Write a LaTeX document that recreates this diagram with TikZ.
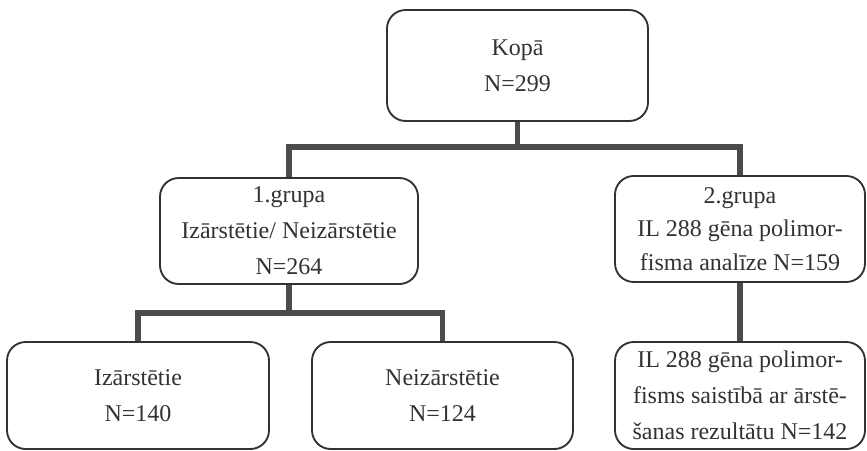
\documentclass[tikz,border=0pt]{standalone}
\usepackage{fontspec}
\setmainfont{Liberation Serif}
\usetikzlibrary{positioning, calc}
\definecolor{BoxGray}{RGB}{50, 50, 50}
\definecolor{BarGray}{RGB}{75, 75, 75}

\begin{document}
\begin{tikzpicture}[x=0.75pt,y=-0.75pt,
	box/.style={draw=BoxGray,line width=1.4pt,rounded corners=14pt,align=center,
		inner sep=0pt,text=BoxGray,font=\fontsize{18}{27}\selectfont},
	bar/.style={draw=BarGray,line width=4pt}]
\useasboundingbox (0,0) rectangle (867,450);
\node[box,minimum width=195.75pt,minimum height=83.25pt] (kopa) at (517.5,65.5) {Kopā\\N=299};
\node[box,minimum width=193.5pt,minimum height=79.5pt] (grupa1) at (289,231) {1.grupa\\Izārstētie/ Neizārstētie\\N=264};
\node[box,minimum width=187.5pt,minimum height=79.5pt,font=\fontsize{18}{25}\selectfont] (grupa2) at (740,229) {2.grupa\\IL 288 gēna polimor-\\fisma analīze N=159};
\node[box,minimum width=196.5pt,minimum height=80.25pt] (izar) at (138,395.5) {Izārstētie\\N=140};
\node[box,minimum width=195.75pt,minimum height=80.25pt] (neizar) at (442.5,395.5) {Neizārstētie\\N=124};
\node[box,minimum width=187.5pt,minimum height=80.25pt] (rezult) at (740,395.5) {IL 288 gēna polimor-\\fisms saistībā ar ārstē-\\šanas rezultātu N=142};
\coordinate (j1) at (517.5,147);
\coordinate (j2) at (289,313);
\draw[bar] (kopa.south) -- (j1);
\draw[bar] (grupa1.north) |- (j1) -| (grupa2.north);
\draw[bar] (grupa1.south) -- (j2);
\draw[bar] (izar.north) |- (j2) -| (neizar.north);
\draw[bar] (grupa2.south) -- (rezult.north);
\end{tikzpicture}
\end{document}
